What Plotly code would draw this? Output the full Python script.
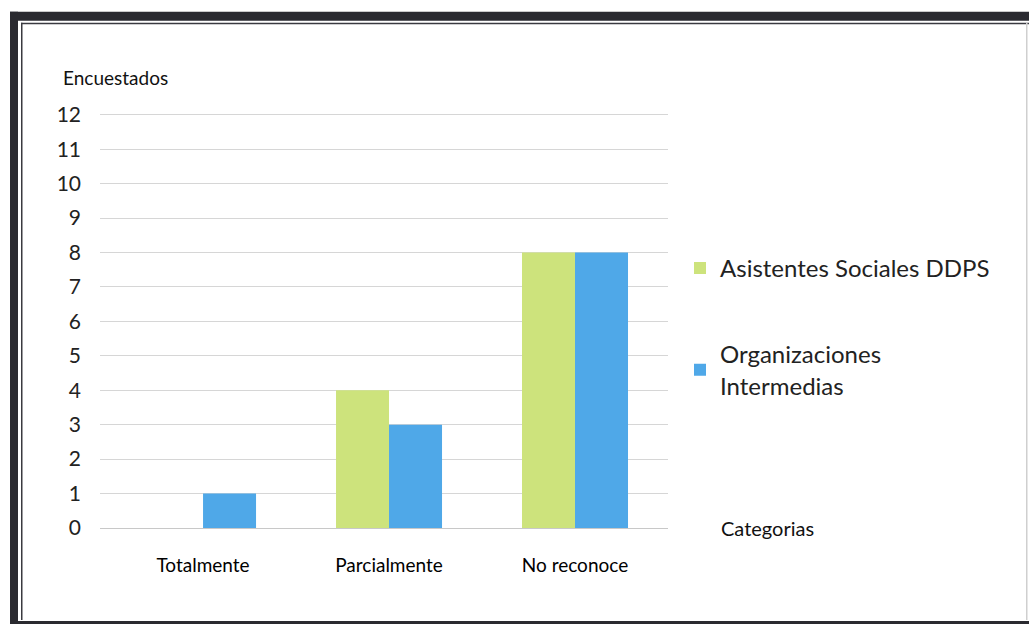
import plotly.graph_objects as go

categories = ["Totalmente", "Parcialmente", "No reconoce"]
asistentes = [0, 4, 8]
organizaciones = [1, 3, 8]
series_names = ["Asistentes Sociales DDPS", "Organizaciones<br>Intermedias"]
y_ticks = list(range(0, 13))

W, H = 1029, 626
YMAX = 12.05
L, R, B = 100, 668, 528           # plot area pixel bounds
T = B - (B - 115) / 12 * YMAX     # so that 12 sits at y=115

def px(x):
    return (x - L) / (R - L)

def py(y):
    return (B - y) / (B - T)

fig = go.Figure()
fig.add_trace(go.Bar(x=categories, y=asistentes, name=series_names[0],
                     marker=dict(color="#cde37c", line=dict(width=0)),
                     legendgroup="a"))
fig.add_trace(go.Bar(x=categories, y=organizaciones, name=series_names[1],
                     marker=dict(color="#4fa8e8", line=dict(width=0)),
                     legendgroup="b"))

shapes = []
dark = "#2a2a30"
def rect(x0, y0, x1, y1, color):
    shapes.append(dict(type="rect", xref="paper", yref="paper",
                       x0=px(x0), x1=px(x1), y0=py(y0), y1=py(y1),
                       fillcolor=color, line=dict(width=0), layer="above"))
rect(10, 12, 1029, 21, dark)
rect(10, 12, 18, 623, dark)
rect(10, 621, 1029, 624, dark)
rect(21, 23, 1029, 24.5, "#3a3a40")
rect(21, 23, 22.5, 620, "#3a3a40")
rect(1026, 23, 1027.5, 620, "#cfcfcf")

label_font = "Lato, Open Sans, sans-serif"

fig.update_layout(
    width=W, height=H,
    margin=dict(l=L, r=W - R, t=T, b=H - B, pad=0),
    paper_bgcolor="white", plot_bgcolor="white",
    barmode="group", bargap=0.43, bargroupgap=0,
    font=dict(family=label_font, color="#222222"),
    xaxis=dict(range=[-0.554, 2.5], showgrid=False, showline=False,
               ticks="", tickfont=dict(size=19, family=label_font, color="#000000"),
               ticklabelstandoff=24),
    yaxis=dict(range=[0, YMAX], tickvals=y_ticks, showgrid=True,
               gridcolor="#d6d6d6", gridwidth=1, zeroline=True,
               zerolinecolor="#c8c8c8", zerolinewidth=1, showline=False,
               ticks="", tickfont=dict(size=21, color="#222222"),
               ticklabelstandoff=18),
    legend=dict(x=px(680), y=py(246), xanchor="left", yanchor="top",
                font=dict(size=24, color="#222222"), tracegroupgap=52,
                bgcolor="rgba(0,0,0,0)", itemwidth=30),
    shapes=shapes,
    annotations=[
        dict(text="Encuestados", xref="paper", yref="paper", x=px(61), y=py(78),
             xanchor="left", yanchor="middle", showarrow=False,
             font=dict(size=19, family=label_font, color="#111111")),
        dict(text="Categorias", xref="paper", yref="paper", x=px(719), y=py(528),
             xanchor="left", yanchor="middle", showarrow=False,
             font=dict(size=20, family=label_font, color="#111111")),
    ],
)

fig.write_html("out.html", config={"displayModeBar": False},
               post_script="document.body.style.margin='0';")
